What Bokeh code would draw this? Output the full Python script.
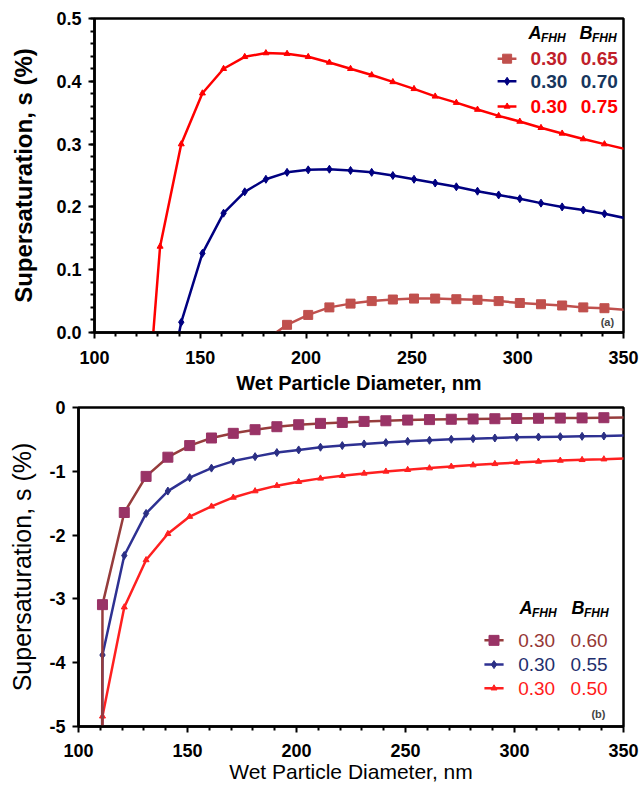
import numpy as np
from bokeh.plotting import figure
from bokeh.models import Range1d, FixedTicker, PrintfTickFormatter, Label
from bokeh.embed import file_html
from bokeh.resources import INLINE

FONT = "Liberation Sans"

# ---------------- data: panel (a) ----------------
a_red_x = [121, 131, 141, 151, 161, 171, 181, 191, 201, 211, 221, 231, 241, 251, 261, 271, 281, 291, 301, 311, 321, 331, 341, 351]
a_red_y = [-0.29, 0.137, 0.300, 0.381, 0.420, 0.439, 0.445, 0.444, 0.439, 0.430, 0.420, 0.410, 0.399, 0.388, 0.376, 0.366, 0.355, 0.345, 0.336, 0.326, 0.317, 0.308, 0.300, 0.292]
a_blue_x = [131, 141, 151, 161, 171, 181, 191, 201, 211, 221, 231, 241, 251, 261, 271, 281, 291, 301, 311, 321, 331, 341, 351]
a_blue_y = [-0.15, 0.0164, 0.126, 0.190, 0.224, 0.244, 0.255, 0.259, 0.260, 0.258, 0.255, 0.250, 0.244, 0.238, 0.232, 0.225, 0.219, 0.213, 0.206, 0.200, 0.195, 0.189, 0.182]
a_brown_x = [181, 191, 201, 211, 221, 231, 241, 251, 261, 271, 281, 291, 301, 311, 321, 331, 341, 351]
a_brown_y = [-0.0113, 0.0122, 0.028, 0.040, 0.046, 0.050, 0.0525, 0.054, 0.054, 0.053, 0.052, 0.050, 0.047, 0.045, 0.043, 0.040, 0.0387, 0.036]
a_A = ["0.30", "0.30", "0.30"]
a_B = ["0.65", "0.70", "0.75"]

# ---------------- data: panel (b) ----------------
b_x = [111, 121, 131, 141, 151, 161, 171, 181, 191, 201, 211, 221, 231, 241, 251, 261, 271, 281, 291, 301, 311, 321, 331, 341, 351]
b_brown_x = [110.8] + b_x
b_brown_y = [-7.0, -3.09, -1.646, -1.08, -0.779, -0.597, -0.478, -0.405, -0.348, -0.301, -0.270, -0.249, -0.234, -0.218, -0.208, -0.197, -0.190, -0.184, -0.180, -0.176, -0.172, -0.169, -0.166, -0.163, -0.160, -0.158]
b_blue_x = [110.6] + b_x
b_blue_y = [-6.5, -3.88, -2.32, -1.66, -1.31, -1.10, -0.95, -0.84, -0.77, -0.706, -0.665, -0.623, -0.597, -0.571, -0.550, -0.530, -0.514, -0.498, -0.488, -0.478, -0.467, -0.462, -0.457, -0.452, -0.447, -0.440]
b_red_x = [110.6] + b_x
b_red_y = [-5.6, -4.84, -3.13, -2.39, -1.98, -1.71, -1.55, -1.41, -1.31, -1.225, -1.163, -1.111, -1.07, -1.033, -1.002, -0.976, -0.950, -0.924, -0.903, -0.883, -0.862, -0.846, -0.831, -0.820, -0.810, -0.798]
b_A = ["0.30", "0.30", "0.30"]
b_B = ["0.60", "0.55", "0.50"]

x_ticks = [100, 150, 200, 250, 300, 350]
a_y_ticks = [0.0, 0.1, 0.2, 0.3, 0.4, 0.5]
b_y_ticks = [-5, -4, -3, -2, -1, 0]


def inside(xs, ys, x0=100, x1=350):
    pts = [(x, y) for x, y in zip(xs, ys) if x0 <= x <= x1]
    return [p[0] for p in pts], [p[1] for p in pts]


def base(height, ymin, yt, border_left, border_top, border_bottom, bold_titles,
         xtitle_size, ytitle_size, xlab_so, xtitle_so, ylab_so, ytitle_so):
    p = figure(width=640, height=height, output_backend="svg", toolbar_location=None,
               x_range=Range1d(100, 350), y_range=Range1d(ymin, yt[-1]),
               min_border_left=border_left, min_border_right=17,
               min_border_top=border_top, min_border_bottom=border_bottom)
    p.grid.visible = False
    p.outline_line_color = "black"
    p.outline_line_width = 2.5
    p.background_fill_color = "white"
    p.border_fill_color = "white"
    minor_x = [v for v in range(100, 351, 10) if v % 50 != 0]
    p.xaxis.ticker = FixedTicker(ticks=x_ticks, minor_ticks=minor_x)
    for ax in (p.xaxis[0], p.yaxis[0]):
        ax.axis_line_width = 2.5
        ax.axis_line_color = "black"
        ax.major_tick_line_width = 2
        ax.minor_tick_line_width = 2
        ax.major_tick_out = 6
        ax.major_tick_in = 0
        ax.minor_tick_out = 4
        ax.minor_tick_in = 0
        ax.major_label_text_font = FONT
        ax.major_label_text_font_style = "bold"
        ax.major_label_text_font_size = "18px"
        ax.major_label_text_color = "black"
        ax.axis_label_text_font = FONT
        ax.axis_label_text_font_style = "bold" if bold_titles else "normal"
        ax.axis_label_text_color = "black"
    p.xaxis.axis_label_text_font_size = xtitle_size
    p.yaxis.axis_label_text_font_size = ytitle_size
    p.xaxis.major_label_standoff = xlab_so
    p.yaxis.major_label_standoff = ylab_so
    p.xaxis.axis_label = "Wet Particle Diameter, nm"
    p.yaxis.axis_label = "Supersaturation, s (%)"
    p.xaxis.axis_label_standoff = xtitle_so
    p.yaxis.axis_label_standoff = ytitle_so
    return p


def series(p, xs, ys, line_color, marker, size, fill):
    p.line(xs, ys, line_color=line_color, line_width=2.5)
    mx, my = inside(xs, ys)
    p.scatter(mx, my, marker=marker, size=size, fill_color=fill, line_color=fill)


def legend(p, xs_line, x_mid, x_A, x_Bright, x_hA, x_hB, y_head, rows_y, A, B, colors,
           line_cols, mark_cols, markers, sizes, bold):
    for lab, xx in (("A", x_hA), ("B", x_hB)):
        p.add_layout(Label(x=xx, y=y_head, text=lab, text_font=FONT, text_font_size="18px",
                           text_font_style="bold italic", text_baseline="middle", text_color="black"))
        p.add_layout(Label(x=xx, y=y_head, x_offset=12.5, y_offset=-5, text="FHH", text_font=FONT,
                           text_font_size="12px", text_font_style="bold italic",
                           text_baseline="middle", text_color="black"))
    for i in range(3):
        p.line(xs_line, [rows_y[i], rows_y[i]], line_color=line_cols[i], line_width=2.5)
        p.scatter([x_mid], [rows_y[i]], marker=markers[i], size=sizes[i],
                  fill_color=mark_cols[i], line_color=mark_cols[i])
        p.add_layout(Label(x=x_A, y=rows_y[i], text=A[i], text_font=FONT, text_font_size="19px",
                           text_font_style="bold" if bold else "normal", text_baseline="middle",
                           text_color=colors[i]))
        p.add_layout(Label(x=x_Bright, y=rows_y[i], text=B[i], text_font=FONT, text_font_size="19px",
                           text_font_style="bold" if bold else "normal", text_baseline="middle",
                           text_align="right", text_color=colors[i]))


# ---------------- panel (a) ----------------
pa = base(396, 0.0, a_y_ticks, 94, 18, 64, True, "20px", "24px", 12, 5, 7, 16)
pa.yaxis.ticker = FixedTicker(ticks=a_y_ticks, minor_ticks=[round(v, 2) for v in np.arange(0, 0.501, 0.02)])
pa.yaxis.formatter = PrintfTickFormatter(format="%.1f")

series(pa, a_brown_x, a_brown_y, "#c0504d", "square", 9, "#c0504d")
series(pa, a_blue_x, a_blue_y, "#000080", "diamond", 8, "#000080")
series(pa, a_red_x, a_red_y, "#ff0000", "triangle", 6, "#ff0000")

legend(pa, [290.5, 299.4], 295.0, 306.0, 347.3, 305.1, 329.2, 0.477, [0.436, 0.400, 0.360],
       a_A, a_B, ["#c0202a", "#17365d", "#ff0000"], ["#c0504d", "#000080", "#ff0000"],
       ["#c0504d", "#000080", "#ff0000"], ["square", "diamond", "triangle"], [9, 8, 6], True)
pa.add_layout(Label(x=342.4, y=0.016, text="(a)", text_font=FONT, text_font_size="11px",
                    text_font_style="bold", text_align="center", text_baseline="middle"))

# ---------------- panel (b) ----------------
pb = base(389, -5, b_y_ticks, 78, 11, 58, False, "21px", "25px", 11, 0, 7, 10)
pb.yaxis.ticker = FixedTicker(ticks=b_y_ticks, minor_ticks=[])
pb.yaxis.formatter = PrintfTickFormatter(format="%d")

series(pb, b_red_x, b_red_y, "#ff2020", "triangle", 6, "#ff2020")
series(pb, b_blue_x, b_blue_y, "#2e3192", "diamond", 8, "#2b2f84")
series(pb, b_brown_x, b_brown_y, "#963c3c", "square", 10, "#993366")

legend(pb, [286.2, 295.0], 290.6, 301.7, 342.7, 302.3, 326.1, -3.14, [-3.65, -4.03, -4.40],
       b_A, b_B, ["#953735", "#1f2f6e", "#ff1a1a"], ["#963c3c", "#2e3192", "#ff2020"],
       ["#993366", "#2b2f84", "#ff2020"], ["square", "diamond", "triangle"], [10, 8, 6], False)
pb.add_layout(Label(x=338.5, y=-4.81, text="(b)", text_font=FONT, text_font_size="11px",
                    text_font_style="bold", text_align="center", text_baseline="middle"))

open("out.html", "w").write(file_html([pa, pb], INLINE))
